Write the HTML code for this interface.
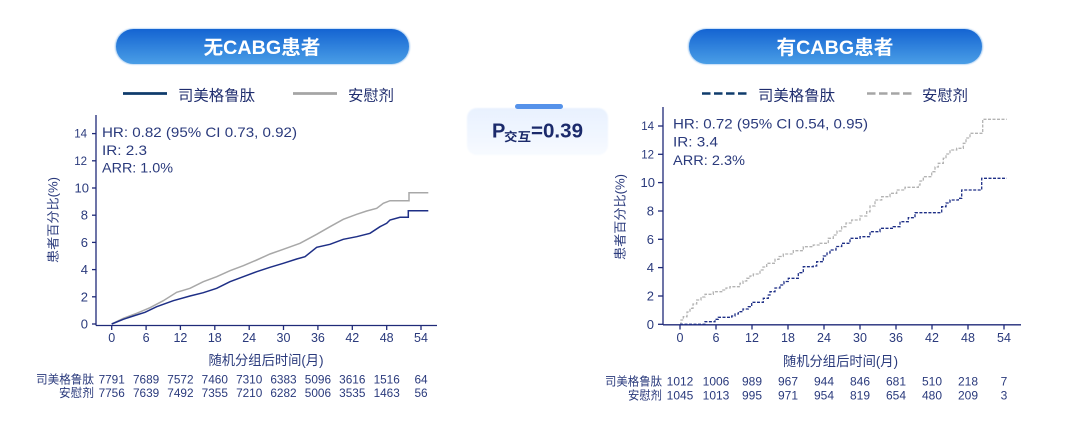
<!DOCTYPE html>
<html><head><meta charset="utf-8">
<style>
html,body{margin:0;padding:0;background:#fff;}
svg{display:block;}
text{font-family:"Liberation Sans","Noto Sans CJK SC",sans-serif;}
.cjk{font-family:"Liberation Sans","Noto Sans CJK SC",sans-serif;}
</style></head>
<body>
<svg width="1080" height="433" viewBox="0 0 1080 433" xmlns="http://www.w3.org/2000/svg">
<defs>
<linearGradient id="pill" x1="0" y1="0" x2="0" y2="1">
<stop offset="0" stop-color="#1464d2"/>
<stop offset="1" stop-color="#4a9ee6"/>
</linearGradient>
<linearGradient id="pbox" x1="0" y1="0" x2="0" y2="1">
<stop offset="0" stop-color="#e8f1fe"/>
<stop offset="1" stop-color="#f7faff"/>
</linearGradient>
<filter id="soft" x="-20%" y="-20%" width="140%" height="140%"><feGaussianBlur stdDeviation="0.8"/></filter>
</defs>

<!-- Title pills -->
<rect x="115" y="28.5" width="295" height="36" rx="18" fill="#9cc6f0" filter="url(#soft)"/>
<rect x="116" y="29" width="293" height="35" rx="17.5" fill="url(#pill)"/>
<text x="262" y="54" text-anchor="middle" font-size="19.5" font-weight="bold" fill="#fff" textLength="117" lengthAdjust="spacingAndGlyphs">无CABG患者</text>

<rect x="688" y="28.5" width="295" height="36" rx="18" fill="#9cc6f0" filter="url(#soft)"/>
<rect x="689" y="29" width="293" height="35" rx="17.5" fill="url(#pill)"/>
<text x="835" y="54" text-anchor="middle" font-size="19.5" font-weight="bold" fill="#fff" textLength="117" lengthAdjust="spacingAndGlyphs">有CABG患者</text>

<!-- Legends -->
<line x1="123" y1="93.5" x2="167" y2="93.5" stroke="#0f3b6c" stroke-width="2.8"/>
<text x="178" y="100.5" font-size="15" fill="#1f2d6e" textLength="77" lengthAdjust="spacingAndGlyphs">司美格鲁肽</text>
<line x1="293" y1="93.5" x2="337" y2="93.5" stroke="#a5a5a5" stroke-width="2.8"/>
<text x="348" y="100.5" font-size="15" fill="#1f2d6e" textLength="46" lengthAdjust="spacingAndGlyphs">安慰剂</text>

<line x1="702" y1="93.5" x2="747" y2="93.5" stroke="#0f3b6c" stroke-width="2.6" stroke-dasharray="8.5 3.5"/>
<text x="758" y="100.5" font-size="15" fill="#1f2d6e" textLength="77" lengthAdjust="spacingAndGlyphs">司美格鲁肽</text>
<line x1="867" y1="93.5" x2="913" y2="93.5" stroke="#a5a5a5" stroke-width="2.6" stroke-dasharray="8.5 3.5"/>
<text x="922" y="100.5" font-size="15" fill="#1f2d6e" textLength="46" lengthAdjust="spacingAndGlyphs">安慰剂</text>

<!-- P interaction box -->
<rect x="467" y="108" width="141" height="47" rx="10" fill="url(#pbox)" filter="url(#soft)"/>
<rect x="515" y="104" width="48" height="5" rx="2.5" fill="#5592ea"/>
<text x="492" y="137.5" font-size="20" font-weight="bold" fill="#1b2a6b">P</text>
<text x="504" y="141" font-size="12" font-weight="bold" fill="#1b2a6b" textLength="27" lengthAdjust="spacingAndGlyphs">交互</text>
<text x="531" y="137.5" font-size="20" font-weight="bold" fill="#1b2a6b" textLength="52" lengthAdjust="spacingAndGlyphs">=0.39</text>

<!-- ============ LEFT CHART ============ -->
<g stroke="#1f2a78" stroke-width="1.3" fill="none">
<line x1="96" y1="115" x2="96" y2="325.5"/>
<line x1="96" y1="325.5" x2="437" y2="325.5"/>
<!-- y ticks -->
<line x1="92" y1="324" x2="96" y2="324"/>
<line x1="92" y1="296.8" x2="96" y2="296.8"/>
<line x1="92" y1="269.6" x2="96" y2="269.6"/>
<line x1="92" y1="242.4" x2="96" y2="242.4"/>
<line x1="92" y1="215.2" x2="96" y2="215.2"/>
<line x1="92" y1="188" x2="96" y2="188"/>
<line x1="92" y1="160.8" x2="96" y2="160.8"/>
<line x1="92" y1="133.6" x2="96" y2="133.6"/>
<!-- x ticks -->
<line x1="111.7" y1="325.5" x2="111.7" y2="330"/>
<line x1="146.1" y1="325.5" x2="146.1" y2="330"/>
<line x1="180.4" y1="325.5" x2="180.4" y2="330"/>
<line x1="214.8" y1="325.5" x2="214.8" y2="330"/>
<line x1="249.2" y1="325.5" x2="249.2" y2="330"/>
<line x1="283.5" y1="325.5" x2="283.5" y2="330"/>
<line x1="317.9" y1="325.5" x2="317.9" y2="330"/>
<line x1="352.3" y1="325.5" x2="352.3" y2="330"/>
<line x1="386.7" y1="325.5" x2="386.7" y2="330"/>
<line x1="421" y1="325.5" x2="421" y2="330"/>
</g>
<g fill="#2a3a7c" font-size="13" text-anchor="end">
<text x="88" y="328.5">0</text>
<text x="88" y="301.3">2</text>
<text x="88" y="274.1">4</text>
<text x="88" y="246.9">6</text>
<text x="88" y="219.7">8</text>
<text x="89" y="192.5">10</text>
<text x="87" y="164.8" font-size="11.5">12</text>
<text x="87" y="137.6" font-size="11.5">14</text>
</g>
<g fill="#2a3a7c" font-size="12.5" text-anchor="middle">
<text x="111.7" y="342">0</text>
<text x="146.1" y="342">6</text>
<text x="180.4" y="342">12</text>
<text x="214.8" y="342">18</text>
<text x="249.2" y="342">24</text>
<text x="283.5" y="342">30</text>
<text x="317.9" y="342">36</text>
<text x="352.3" y="342">42</text>
<text x="386.7" y="342">48</text>
<text x="421" y="342">54</text>
</g>
<text x="266" y="365" text-anchor="middle" font-size="13.5" fill="#2a3a7c" textLength="115" lengthAdjust="spacingAndGlyphs">随机分组后时间(月)</text>
<text transform="translate(57.5,220) rotate(-90)" text-anchor="middle" font-size="12.5" fill="#2a3a7c" textLength="86" lengthAdjust="spacingAndGlyphs">患者百分比(%)</text>

<g fill="#2a3a7c" font-size="14">
<text x="102" y="137" textLength="195" lengthAdjust="spacingAndGlyphs">HR: 0.82 (95% CI 0.73, 0.92)</text>
<text x="102" y="155" textLength="45" lengthAdjust="spacingAndGlyphs">IR: 2.3</text>
<text x="102" y="172.5" textLength="71" lengthAdjust="spacingAndGlyphs">ARR: 1.0%</text>
</g>

<!-- left curves -->
<polyline fill="none" stroke="#a8a8a8" stroke-width="1.5" points="111.7,324 123.3,318.3 136.7,313.3 150,307.7 163.3,300.7 176.7,292.3 190,288.3 203.3,281.7 216.7,276.7 230,270.7 243.3,265.7 256.7,260 270,254 283.3,249.3 300,243.3 316.7,234.3 330,226.7 343.3,219.3 356.7,214.3 366.7,211 376.7,208.3 383.3,203.3 390,200.7 409,200.7 409,192.7 428.3,192.7"/>
<polyline fill="none" stroke="#1e2f86" stroke-width="1.5" points="111.7,324 123.3,319.3 133.3,316 145,312.3 156.7,306.7 173.3,300.7 190,296 203.3,292.7 216.7,288.3 230,281.7 243.3,276.7 256.7,271.7 270,267.3 283.3,263.3 296.7,259 305,256.7 316.7,247.3 330,244.3 343.3,239.3 356.7,236.7 370,233.3 380,226.7 386.7,223.3 390,220 400,217.3 408.3,217.3 408.3,210.7 428.3,210.7"/>

<g fill="#2a3a7c" font-size="12">
<text x="94" y="383.5" text-anchor="end" textLength="58" lengthAdjust="spacingAndGlyphs">司美格鲁肽</text>
<text x="94" y="397" text-anchor="end" textLength="35" lengthAdjust="spacingAndGlyphs">安慰剂</text>
</g>
<g fill="#2a3a7c" font-size="11.8" text-anchor="middle">
<text x="111.7" y="383.5">7791</text><text x="146.1" y="383.5">7689</text><text x="180.4" y="383.5">7572</text><text x="214.8" y="383.5">7460</text><text x="249.2" y="383.5">7310</text><text x="283.5" y="383.5">6383</text><text x="317.9" y="383.5">5096</text><text x="352.3" y="383.5">3616</text><text x="386.7" y="383.5">1516</text><text x="421" y="383.5">64</text>
<text x="111.7" y="397">7756</text><text x="146.1" y="397">7639</text><text x="180.4" y="397">7492</text><text x="214.8" y="397">7355</text><text x="249.2" y="397">7210</text><text x="283.5" y="397">6282</text><text x="317.9" y="397">5006</text><text x="352.3" y="397">3535</text><text x="386.7" y="397">1463</text><text x="421" y="397">56</text>
</g>

<!-- ============ RIGHT CHART ============ -->
<g stroke="#1f2a78" stroke-width="1.3" fill="none">
<line x1="663" y1="107" x2="663" y2="324.8"/>
<line x1="663" y1="324.8" x2="1021" y2="324.8"/>
<line x1="658" y1="324.3" x2="663" y2="324.3"/>
<line x1="658" y1="296" x2="663" y2="296"/>
<line x1="658" y1="267.6" x2="663" y2="267.6"/>
<line x1="658" y1="239.3" x2="663" y2="239.3"/>
<line x1="658" y1="211" x2="663" y2="211"/>
<line x1="658" y1="182.6" x2="663" y2="182.6"/>
<line x1="658" y1="154.3" x2="663" y2="154.3"/>
<line x1="658" y1="126" x2="663" y2="126"/>
<line x1="680" y1="324.8" x2="680" y2="329.5"/>
<line x1="716" y1="324.8" x2="716" y2="329.5"/>
<line x1="752" y1="324.8" x2="752" y2="329.5"/>
<line x1="788" y1="324.8" x2="788" y2="329.5"/>
<line x1="824" y1="324.8" x2="824" y2="329.5"/>
<line x1="860" y1="324.8" x2="860" y2="329.5"/>
<line x1="896" y1="324.8" x2="896" y2="329.5"/>
<line x1="932" y1="324.8" x2="932" y2="329.5"/>
<line x1="968" y1="324.8" x2="968" y2="329.5"/>
<line x1="1004" y1="324.8" x2="1004" y2="329.5"/>
</g>
<g fill="#2a3a7c" font-size="13" text-anchor="end">
<text x="654" y="328.8">0</text>
<text x="654" y="300.5">2</text>
<text x="654" y="272.1">4</text>
<text x="654" y="243.8">6</text>
<text x="654" y="215.5">8</text>
<text x="655" y="187.1">10</text>
<text x="654" y="158.3" font-size="11.5">12</text>
<text x="654" y="130" font-size="11.5">14</text>
</g>
<g fill="#2a3a7c" font-size="12.5" text-anchor="middle">
<text x="680" y="342">0</text>
<text x="716" y="342">6</text>
<text x="752" y="342">12</text>
<text x="788" y="342">18</text>
<text x="824" y="342">24</text>
<text x="860" y="342">30</text>
<text x="896" y="342">36</text>
<text x="932" y="342">42</text>
<text x="968" y="342">48</text>
<text x="1004" y="342">54</text>
</g>
<text x="840.5" y="366" text-anchor="middle" font-size="13.5" fill="#2a3a7c" textLength="115" lengthAdjust="spacingAndGlyphs">随机分组后时间(月)</text>
<text transform="translate(624.5,217) rotate(-90)" text-anchor="middle" font-size="12.5" fill="#2a3a7c" textLength="86" lengthAdjust="spacingAndGlyphs">患者百分比(%)</text>

<g fill="#2a3a7c" font-size="14">
<text x="673" y="128.5" textLength="195" lengthAdjust="spacingAndGlyphs">HR: 0.72 (95% CI 0.54, 0.95)</text>
<text x="673" y="146.5" textLength="45" lengthAdjust="spacingAndGlyphs">IR: 3.4</text>
<text x="673" y="165" textLength="72" lengthAdjust="spacingAndGlyphs">ARR: 2.3%</text>
</g>

<!-- right curves -->
<path fill="none" stroke="#b3b3b3" stroke-width="1.3" stroke-dasharray="3 1.5" d="M680 324.3 H681 V320 H683.3 V316.7 H687 V312 H690 V308.3 H693 V304 H696.7 V300 H701 V297 H705 V294.3 H713.3 V291.7 H721.7 V290 H726 V288 H730 V286.7 H740 V283.3 H743 V281 H746.7 V278.3 H750 V276 H753.3 V274 H760 V270 H763 V267 H766.7 V263.3 H775 V259.3 H779 V256.5 H783.3 V254 H793.3 V250.7 H803.3 V246.7 H813.3 V245 H820 V243.3 H828.3 V238.3 H833.3 V235 H837 V231 H841.7 V226.7 H846 V223 H851.7 V220 H860 V216 H866.7 V211.7 H870 V206 H875 V200 H881.7 V196.7 H890 V193.3 H896.7 V190 H905 V187.3 H918.3 V185 H920 V181 H923.3 V176.7 H931.7 V171.7 H935 V167 H938.3 V163.3 H943.3 V158.3 H946 V154 H950 V150 H956.7 V148.3 H963.3 V143.3 H966 V138 H970 V133.3 H982.7 V119.3 H1006.7"/>
<path fill="none" stroke="#1e2f86" stroke-width="1.3" stroke-dasharray="3 1.5" d="M680 324.3 H705 V321.7 H715 V319.3 H718.3 V317.3 H731.7 V316 H735 V314 H738.3 V311.7 H743 V309 H748.3 V306.7 H751.7 V302.3 H763.3 V298.3 H768.3 V295 H770 V291.7 H775 V288 H780 V285 H784 V281.5 H788.3 V278.3 H798.3 V272.7 H803.3 V266.7 H813.3 V266 H816.7 V261.7 H823.3 V256 H827 V253 H830 V250 H836 V246.5 H841.7 V243.3 H850 V238.3 H860 V236.7 H870 V231.7 H880 V228.3 H893.3 V226.7 H900 V221.7 H908.3 V217.7 H915 V212.7 H938.3 H941.7 V206.7 H946 V203 H950 V200 H958.3 V198.3 H961.7 V190 H981.7 V178.3 H1006.7"/>

<g fill="#2a3a7c" font-size="12">
<text x="662" y="385.5" text-anchor="end" textLength="57" lengthAdjust="spacingAndGlyphs">司美格鲁肽</text>
<text x="662" y="399.5" text-anchor="end" textLength="34" lengthAdjust="spacingAndGlyphs">安慰剂</text>
</g>
<g fill="#2a3a7c" font-size="12" text-anchor="middle">
<text x="680" y="385.5">1012</text><text x="716" y="385.5">1006</text><text x="752" y="385.5">989</text><text x="788" y="385.5">967</text><text x="824" y="385.5">944</text><text x="860" y="385.5">846</text><text x="896" y="385.5">681</text><text x="932" y="385.5">510</text><text x="968" y="385.5">218</text><text x="1004" y="385.5">7</text>
<text x="680" y="399.5">1045</text><text x="716" y="399.5">1013</text><text x="752" y="399.5">995</text><text x="788" y="399.5">971</text><text x="824" y="399.5">954</text><text x="860" y="399.5">819</text><text x="896" y="399.5">654</text><text x="932" y="399.5">480</text><text x="968" y="399.5">209</text><text x="1004" y="399.5">3</text>
</g>
</svg>
</body></html>
